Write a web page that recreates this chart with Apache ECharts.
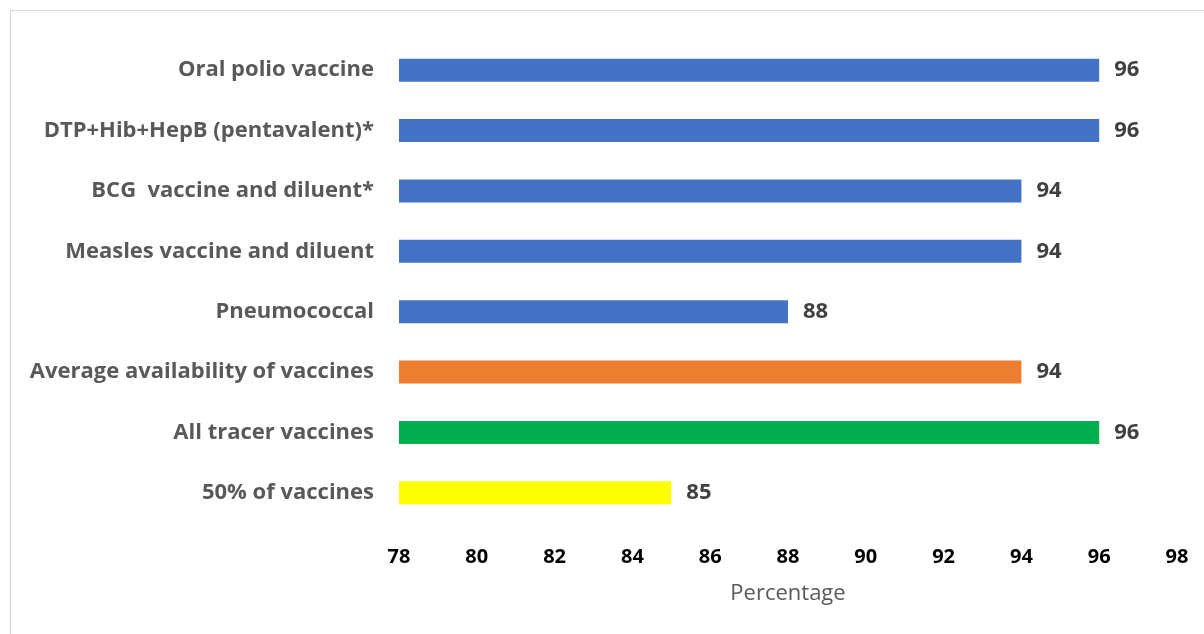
<!DOCTYPE html>
<html>
<head>
<meta charset="utf-8">
<script src="https://cdn.jsdelivr.net/npm/echarts@6/dist/echarts.min.js"></script>
<style>
  html, body { margin: 0; padding: 0; background: #fff; }
  #frame { position: absolute; left: 10px; top: 10px; width: 1210px; height: 640px; border: 1px solid #d9d9d9; box-sizing: border-box; }
  #chart { position: absolute; left: 0; top: 0; width: 1204px; height: 634px; }
</style>
</head>
<body>
<div id="frame"></div>
<div id="chart"></div>
<script>
// Vaccine availability (%), top to bottom
const categories = [
  'Oral polio vaccine',
  'DTP+Hib+HepB (pentavalent)*',
  'BCG  vaccine and diluent*',
  'Measles vaccine and diluent',
  'Pneumococcal',
  'Average availability of vaccines',
  'All tracer vaccines',
  '50% of vaccines'
];
const values = [96, 96, 94, 94, 88, 94, 96, 85];
const barColors = ['#4472C4', '#4472C4', '#4472C4', '#4472C4', '#4472C4', '#ED7D31', '#00B050', '#FFFF00'];
const axisMin = 78, axisMax = 98, axisStep = 2;

const font = '"Open Sans", sans-serif';
const chart = echarts.init(document.getElementById('chart'));
chart.setOption({
  animation: false,
  grid: { left: 399, right: 27, top: 40, bottom: 111, containLabel: false },
  xAxis: {
    type: 'value', min: axisMin, max: axisMax, interval: axisStep,
    name: 'Percentage', nameLocation: 'middle', nameGap: 60,
    nameTextStyle: { color: '#595959', fontSize: 22, fontFamily: font },
    axisLine: { show: false }, axisTick: { show: false }, splitLine: { show: false },
    axisLabel: { color: '#000', fontWeight: 'bold', fontSize: 20, fontFamily: font, margin: 24 }
  },
  yAxis: {
    type: 'category', data: categories, inverse: true,
    axisLine: { show: false }, axisTick: { show: false },
    axisLabel: { color: '#595959', fontWeight: 'bold', fontSize: 22, fontFamily: font, margin: 25 }
  },
  series: [{
    type: 'bar', barWidth: 23,
    data: values.map((v, i) => ({ value: v, itemStyle: { color: barColors[i] } })),
    label: { show: true, position: 'right', distance: 15, color: '#404040', fontWeight: 'bold', fontSize: 22, fontFamily: font }
  }]
});
</script>
</body>
</html>
